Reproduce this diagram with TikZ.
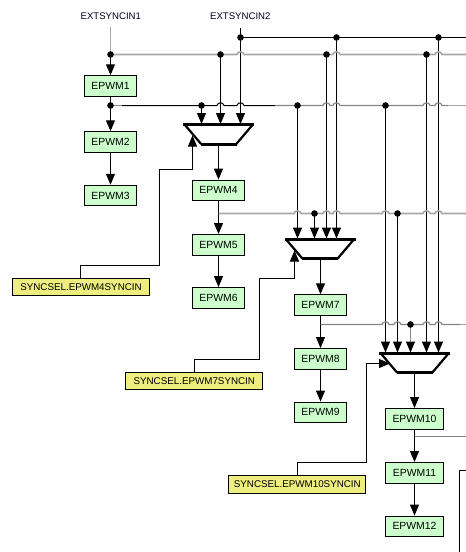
\documentclass[tikz,border=0pt]{standalone}
\usepackage{fontspec}
\setmainfont{Liberation Sans}
\usetikzlibrary{arrows.meta}
\definecolor{boxgreen}{HTML}{CCFFCC}
\definecolor{boxyellow}{HTML}{EEEE80}
\definecolor{busgrey}{HTML}{A6A6A6}
\definecolor{busdark}{HTML}{858585}
\newcommand{\hopat}[2]{-- (#1-3.6,#2) .. controls (#1-2.6,#2-3.6) and (#1+2.6,#2-3.6) .. (#1+3.6,#2)}
\tikzset{
  pwmbox/.style={draw=black,fill=boxgreen,line width=0.9pt,inner sep=0pt,minimum height=20.6pt,font=\fontsize{10.4}{12}\selectfont},
  selbox/.style={draw=black,fill=boxyellow,line width=0.9pt,inner sep=0pt,minimum width=137pt,font=\fontsize{9.8}{12}\selectfont},
  extlabel/.style={inner sep=0pt,text=black!85!blue,font=\fontsize{9.6}{12}\selectfont},
  sig/.style={line width=1pt,black},
  arr/.style={sig,-{Triangle[length=11pt,width=9pt]}},
  busg/.style={line width=1.6pt,busgrey},
  busd/.style={line width=1.2pt,busdark},
  busk/.style={line width=1pt,black},
  dot/.style={circle,fill=black,inner sep=0pt,minimum size=6.6pt},
  muxside/.style={line width=2.2pt,black,line cap=butt},
  muxtop/.style={line width=3.4pt,black},
  muxbot/.style={line width=2.8pt,black},
}
\newcommand{\muxshape}[2]{%
  \fill[white] (#1-35.5,#2) -- (#1+35.5,#2) -- (#1+18,#2+19.4) -- (#1-18,#2+19.4) -- cycle;
  \draw[muxside] (#1-34,#2) -- (#1-17.5,#2+19.4);
  \draw[muxside] (#1+34,#2) -- (#1+17.5,#2+19.4);
  \draw[muxtop] (#1-35.5,#2) -- (#1+35.5,#2);
  \draw[muxbot] (#1-18,#2+19.4) -- (#1+18,#2+19.4);}
\begin{document}
\begin{tikzpicture}[x=1pt,y=-1pt]
\useasboundingbox (0,0) rectangle (466,552);
% nodes
\node[pwmbox,minimum width=51.8pt] (e1) at (110.5,86) {EPWM1};
\node[pwmbox,minimum width=51.8pt] (e2) at (110.5,142) {EPWM2};
\node[pwmbox,minimum width=51.8pt] (e3) at (110.5,195.5) {EPWM3};
\node[pwmbox,minimum width=51.8pt] (e4) at (218.5,190.3) {EPWM4};
\node[pwmbox,minimum width=51.8pt] (e5) at (218.5,244.8) {EPWM5};
\node[pwmbox,minimum width=51.8pt] (e6) at (218.5,297.8) {EPWM6};
\node[pwmbox,minimum width=51.4pt] (e7) at (320.5,305) {EPWM7};
\node[pwmbox,minimum width=51.4pt] (e8) at (320.5,358.8) {EPWM8};
\node[pwmbox,minimum width=51.4pt] (e9) at (320.5,412.3) {EPWM9};
\node[pwmbox,minimum width=58.4pt] (e10) at (414.5,418.8) {EPWM10};
\node[pwmbox,minimum width=58.4pt] (e11) at (414.5,472.8) {EPWM11};
\node[pwmbox,minimum width=58.4pt] (e12) at (414.5,526.3) {EPWM12};
\node[selbox,minimum height=17pt] (s4) at (81,286.8) {SYNCSEL.EPWM4SYNCIN};
\node[selbox,minimum height=17pt] (s7) at (194.3,380.8) {SYNCSEL.EPWM7SYNCIN};
\node[selbox,minimum height=18pt] (s10) at (297.3,484.3) {SYNCSEL.EPWM10SYNCIN};
\node[extlabel] (x1) at (110.8,15.7) {EXTSYNCIN1};
\node[extlabel] (x2) at (240.3,15.7) {EXTSYNCIN2};
% junction coordinates
\coordinate (x1b) at (110.5,27);
\coordinate (x2b) at (240.5,28);
\coordinate (j1) at (110.5,54.5);
\coordinate (j2) at (110.5,105.5);
\coordinate (rb) at (459.5,552);
\coordinate (rt) at (466,470.5);
% EXTSYNCIN1 and chain
\draw[line width=1.6pt,busgrey] (x1b) -- (j1);
\draw[arr] (j1) -- (e1.north);
\draw[arr] (e1.south) -- (e2.north);
\draw[arr] (e2.south) -- (e3.north);
\draw[arr] (e4.south) -- (e5.north);
\draw[arr] (e5.south) -- (e6.north);
\draw[arr] (e7.south) -- (e8.north);
\draw[arr] (e8.south) -- (e9.north);
\draw[arr] (e10.south) -- (e11.north);
\draw[arr] (e11.south) -- (e12.north);
% mux outputs
\draw[arr] (218.5,144) -- (e4.north);
\draw[arr] (320.5,258.7) -- (e7.north);
\draw[arr] (414.5,372.7) -- (e10.north);
% vertical inputs
\draw[arr] (201.5,105.5) -- (201.5,124);
\draw[arr] (220.5,54.5) -- (220.5,124);
\draw[arr] (x2b) -- (240.5,124);
\draw[arr] (297.5,105.5) -- (297.5,238.5);
\draw[arr] (314.5,213.5) -- (314.5,238.5);
\draw[arr] (326.5,54.5) -- (326.5,238.5);
\draw[arr] (336.5,37.5) -- (336.5,238.5);
\draw[arr] (385.5,105.5) -- (385.5,352.5);
\draw[arr] (397.5,213.5) -- (397.5,352.5);
\draw[line width=1pt,busdark,-{Triangle[length=11pt,width=9pt,color=black]}] (410.5,324.5) -- (410.5,352.5);
\draw[arr] (426.5,54.5) -- (426.5,352.5);
\draw[arr] (438.5,37.5) -- (438.5,352.5);
% buses
\draw[busk] (240.5,37.5) -- (466,37.5);
\draw[busg] (j1) \hopat{240.5}{54.5} \hopat{336.5}{54.5} \hopat{438.5}{54.5} -- (466,54.5);
\draw[busd] (j2) -- (122,105.5);
\draw[busk] (122,105.5) \hopat{220.5}{105.5} \hopat{240.5}{105.5} -- (275,105.5);
\draw[busd] (275,105.5) \hopat{326.5}{105.5} \hopat{336.5}{105.5} \hopat{426.5}{105.5} \hopat{438.5}{105.5} -- (448,105.5);
\draw[busg] (448,105.5) -- (466,105.5);
\draw[busg] (218.5,213.5) \hopat{297.5}{213.5} \hopat{326.5}{213.5} \hopat{336.5}{213.5} \hopat{385.5}{213.5} \hopat{426.5}{213.5} \hopat{438.5}{213.5} -- (466,213.5);
\draw[busd] (320.5,324.5) \hopat{385.5}{324.5} \hopat{397.5}{324.5} \hopat{426.5}{324.5} \hopat{438.5}{324.5} -- (460,324.5);
\draw[busg] (460,324.5) -- (466,324.5);
\draw[busd] (414.5,436.5) -- (466,436.5);
\draw[busk] (rb) |- (rt);
% muxes
\muxshape{218.7}{124.7}
\muxshape{320}{239.3}
\muxshape{414.7}{353.3}
% selector lines
\draw[arr] (80.5,278.3) -- (80.5,265.5) -- (159.5,265.5) -- (159.5,169.5) -- (192.5,169.5) -- (192.5,135.5);
\draw[arr] (194.5,372.3) -- (194.5,359.5) -- (259.5,359.5) -- (259.5,278.5) -- (294.5,278.5) -- (294.5,250.5);
\draw[arr] (297.5,475.3) -- (297.5,462.5) -- (366.5,462.5) -- (366.5,363.5) -- (390,363.5);
% dots
\foreach \n/\p in {a/{110.5,54.5},b/{110.5,105.5},c/{201.5,105.5},d/{220.5,54.5},e/{240.5,37.5},f/{336.5,37.5},g/{438.5,37.5},h/{326.5,54.5},i/{426.5,54.5},k/{297.5,105.5},l/{385.5,105.5},n/{314.5,213.5},o/{397.5,213.5},q/{410.5,324.5}}
  \node[dot] (dot\n) at (\p) {};
\end{tikzpicture}
\end{document}
